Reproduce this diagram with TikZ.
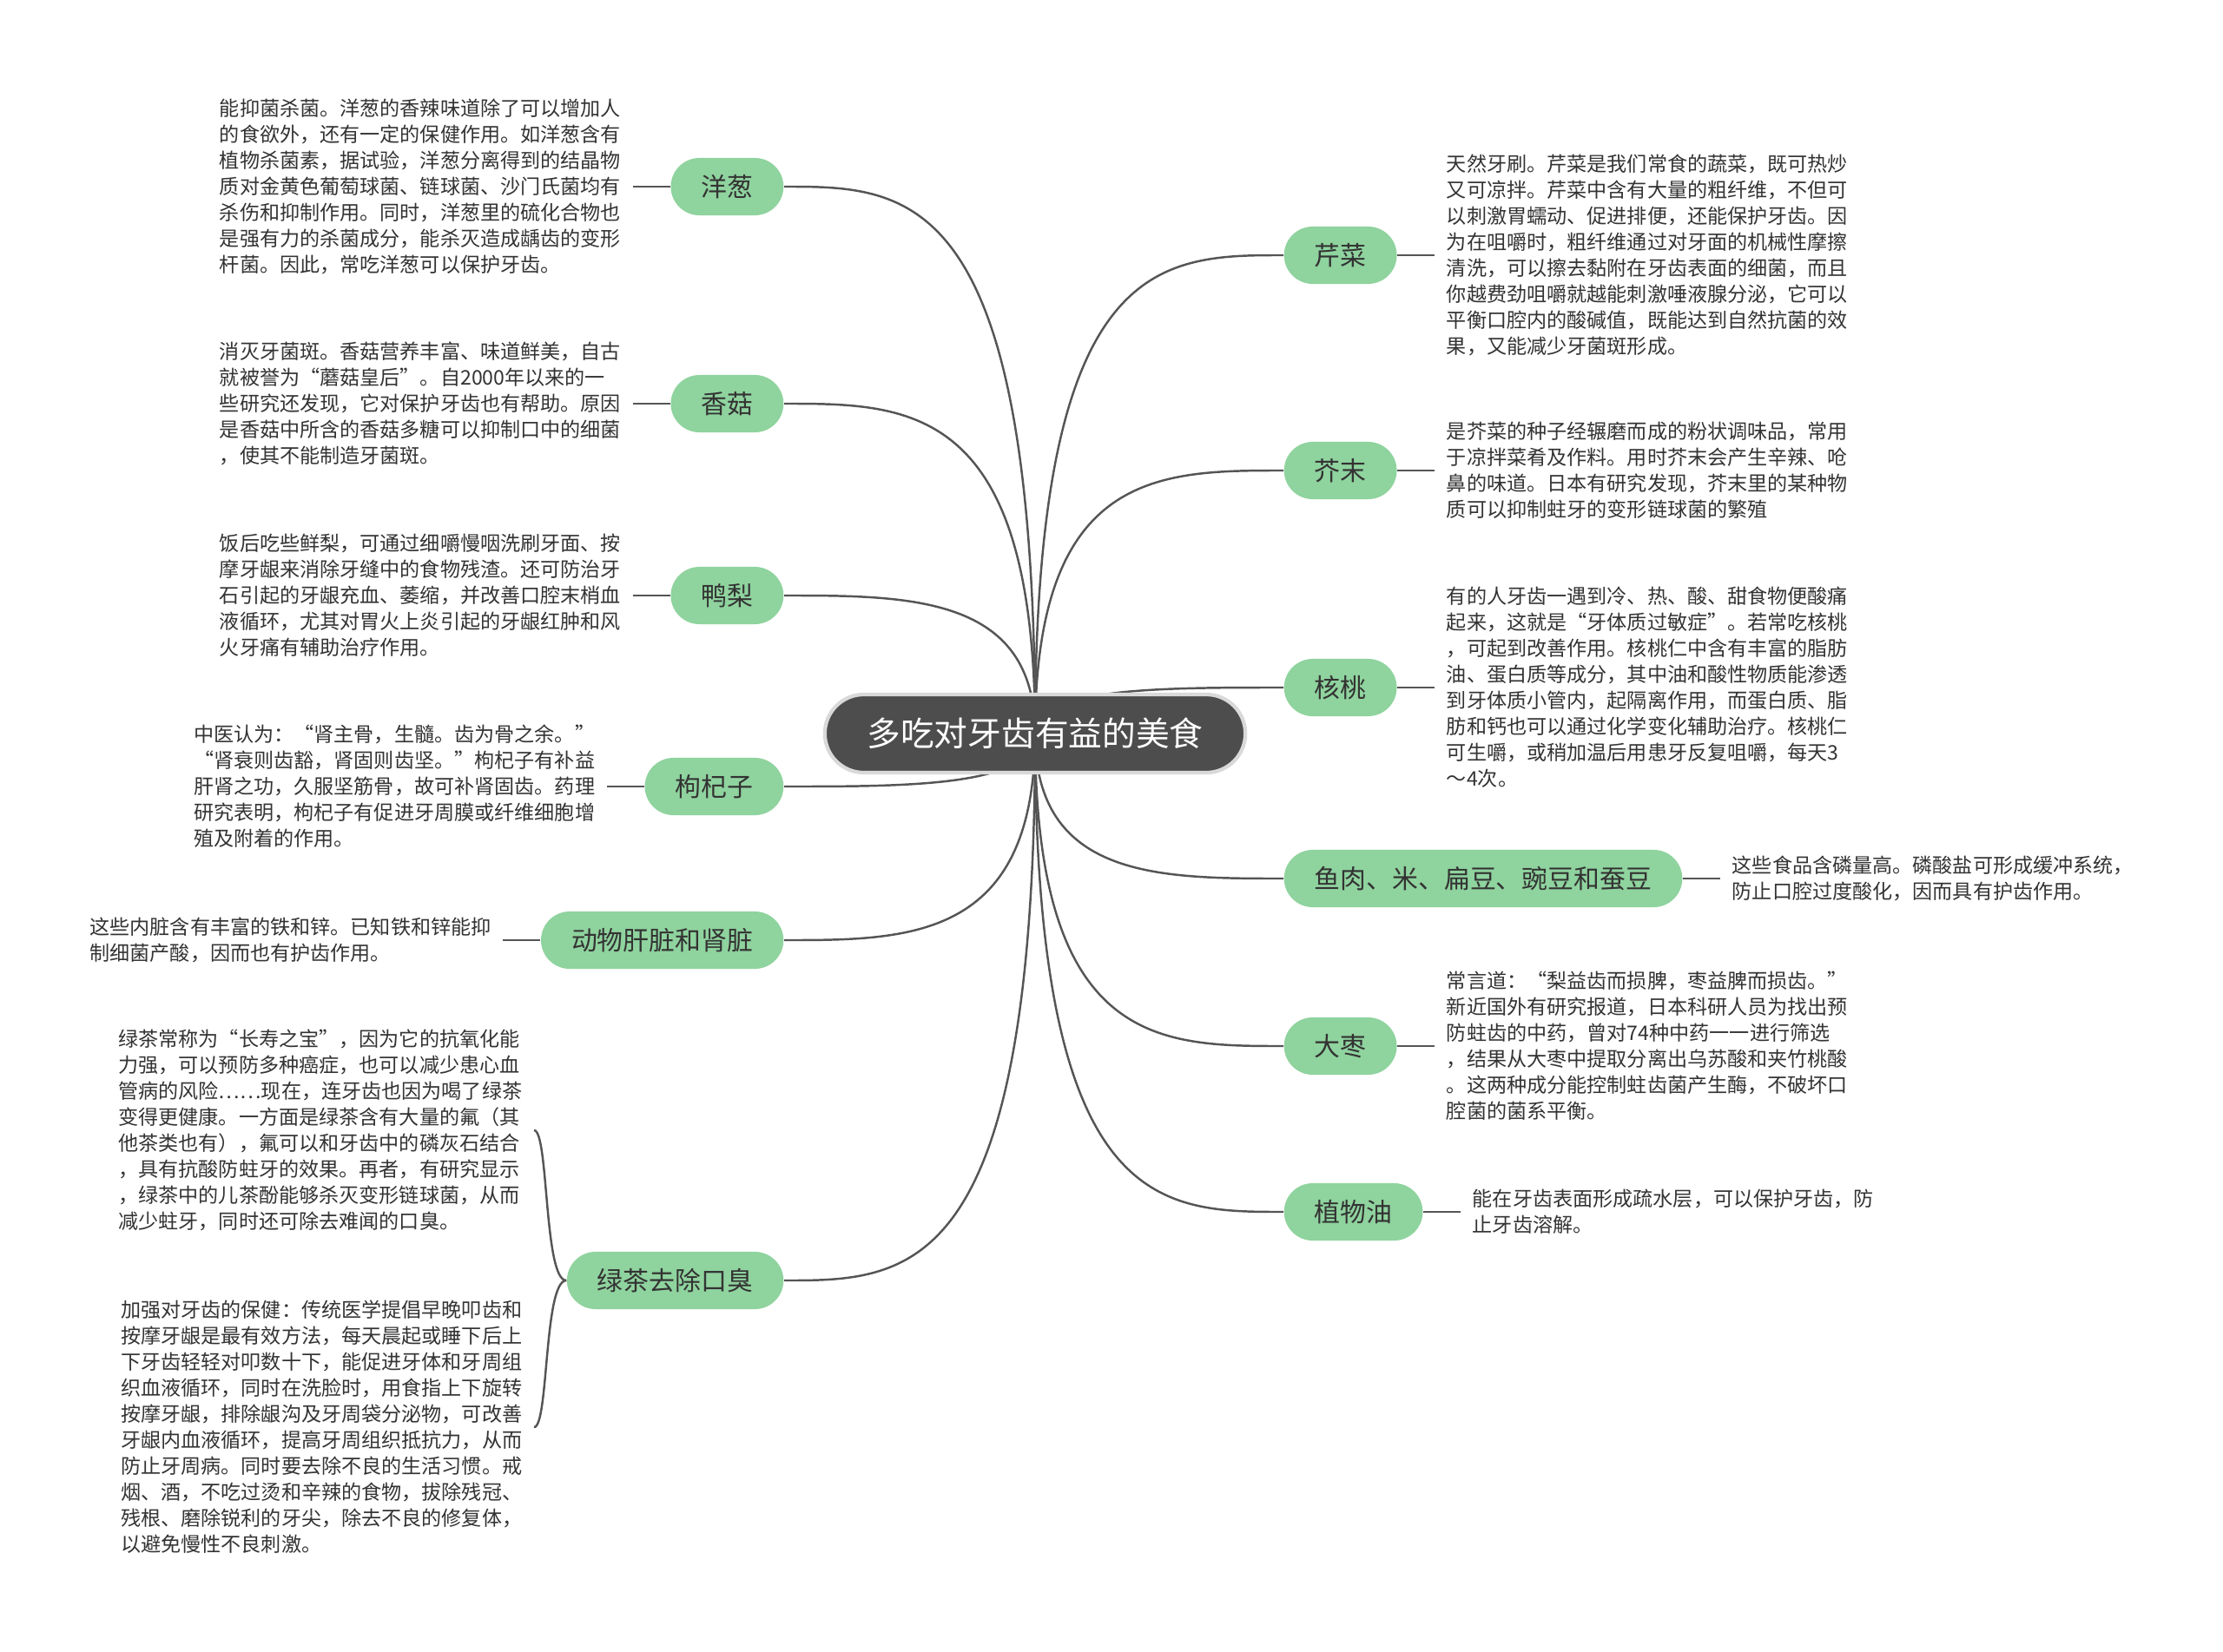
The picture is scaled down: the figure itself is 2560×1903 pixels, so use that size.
\documentclass[tikz,border=0pt]{standalone}
\usepackage{fontspec}
\setmainfont{Noto Sans CJK SC}
\usetikzlibrary{positioning, calc, backgrounds}
\definecolor{rootgray}{RGB}{77,77,77}
\definecolor{topicgreen}{RGB}{143,211,158}
\definecolor{linkgray}{RGB}{85,85,85}
\definecolor{textgray}{RGB}{51,51,51}

\begin{document}
\begin{tikzpicture}[
    x=0.01cm, y=-0.01cm,
    root/.style={fill=rootgray, draw=gray!30, line width=1.2pt, rounded corners=0.45cm, minimum width=4.84cm, minimum height=0.9cm, text=white, font=\fontsize{11pt}{13pt}\selectfont},
    topic/.style={fill=topicgreen, rounded corners=0.33cm, minimum height=0.66cm, inner xsep=0.35cm, text=textgray, font=\fontsize{8.5pt}{10pt}\selectfont},
    leaf/.style={align=left, inner xsep=0.13cm, inner ysep=0pt, text=textgray, font=\fontsize{6.57pt}{8.54pt}\selectfont},
    branch/.style={linkgray, line width=0.7pt, to path={.. controls (\tikztostart |- \tikztotarget) and ($(\tikztostart |- \tikztotarget)!0.5!(\tikztotarget)$) .. (\tikztotarget)}},
    twig/.style={linkgray, line width=0.7pt}
  ]
    \useasboundingbox (0,0) rectangle (2560,1903);
    \node[root] (root) at (1192,845) {多吃对牙齿有益的美食};
    % left side
    \node[topic, anchor=east] (yc) at (903,215) {洋葱};
    \node[topic, anchor=east] (xg) at (903,465) {香菇};
    \node[topic, anchor=east] (yl) at (903,686) {鸭梨};
    \node[topic, anchor=east] (gqz) at (903,906) {枸杞子};
    \node[topic, anchor=east] (dwgz) at (903,1083) {动物肝脏和肾脏};
    \node[topic, anchor=east] (lc) at (903,1475) {绿茶去除口臭};
    % right side
    \node[topic, anchor=west] (qc) at (1478,294) {芹菜};
    \node[topic, anchor=west] (jm) at (1478,542) {芥末};
    \node[topic, anchor=west] (ht) at (1478,792) {核桃};
    \node[topic, anchor=west] (yr) at (1478,1012) {鱼肉、米、扁豆、豌豆和蚕豆};
    \node[topic, anchor=west] (dz) at (1478,1205) {大枣};
    \node[topic, anchor=west] (zwy) at (1478,1396) {植物油};

    \node[leaf, left=0.43cm of yc] (yc-t) {能抑菌杀菌。洋葱的香辣味道除了可以增加人\\的食欲外，还有一定的保健作用。如洋葱含有\\植物杀菌素，据试验，洋葱分离得到的结晶物\\质对金黄色葡萄球菌、链球菌、沙门氏菌均有\\杀伤和抑制作用。同时，洋葱里的硫化合物也\\是强有力的杀菌成分，能杀灭造成龋齿的变形\\杆菌。因此，常吃洋葱可以保护牙齿。};
    \node[leaf, left=0.43cm of xg] (xg-t) {消灭牙菌斑。香菇营养丰富、味道鲜美，自古\\就被誉为“蘑菇皇后”。自2000年以来的一\\些研究还发现，它对保护牙齿也有帮助。原因\\是香菇中所含的香菇多糖可以抑制口中的细菌\\，使其不能制造牙菌斑。};
    \node[leaf, left=0.43cm of yl] (yl-t) {饭后吃些鲜梨，可通过细嚼慢咽洗刷牙面、按\\摩牙龈来消除牙缝中的食物残渣。还可防治牙\\石引起的牙龈充血、萎缩，并改善口腔末梢血\\液循环，尤其对胃火上炎引起的牙龈红肿和风\\火牙痛有辅助治疗作用。};
    \node[leaf, left=0.43cm of gqz] (gqz-t) {中医认为：“肾主骨，生髓。齿为骨之余。”\\“肾衰则齿豁，肾固则齿坚。”枸杞子有补益\\肝肾之功，久服坚筋骨，故可补肾固齿。药理\\研究表明，枸杞子有促进牙周膜或纤维细胞增\\殖及附着的作用。};
    \node[leaf, left=0.43cm of dwgz] (dwgz-t) {这些内脏含有丰富的铁和锌。已知铁和锌能抑\\制细菌产酸，因而也有护齿作用。};
    \node[leaf, anchor=east] (lc-t1) at (615,1302) {绿茶常称为“长寿之宝”，因为它的抗氧化能\\力强，可以预防多种癌症，也可以减少患心血\\管病的风险……现在，连牙齿也因为喝了绿茶\\变得更健康。一方面是绿茶含有大量的氟（其\\他茶类也有），氟可以和牙齿中的磷灰石结合\\，具有抗酸防蛀牙的效果。再者，有研究显示\\，绿茶中的儿茶酚能够杀灭变形链球菌，从而\\减少蛀牙，同时还可除去难闻的口臭。};
    \node[leaf, anchor=east] (lc-t2) at (615,1644) {加强对牙齿的保健：传统医学提倡早晚叩齿和\\按摩牙龈是最有效方法，每天晨起或睡下后上\\下牙齿轻轻对叩数十下，能促进牙体和牙周组\\织血液循环，同时在洗脸时，用食指上下旋转\\按摩牙龈，排除龈沟及牙周袋分泌物，可改善\\牙龈内血液循环，提高牙周组织抵抗力，从而\\防止牙周病。同时要去除不良的生活习惯。戒\\烟、酒，不吃过烫和辛辣的食物，拔除残冠、\\残根、磨除锐利的牙尖，除去不良的修复体，\\以避免慢性不良刺激。};
    \node[leaf, right=0.43cm of qc] (qc-t) {天然牙刷。芹菜是我们常食的蔬菜，既可热炒\\又可凉拌。芹菜中含有大量的粗纤维，不但可\\以刺激胃蠕动、促进排便，还能保护牙齿。因\\为在咀嚼时，粗纤维通过对牙面的机械性摩擦\\清洗，可以擦去黏附在牙齿表面的细菌，而且\\你越费劲咀嚼就越能刺激唾液腺分泌，它可以\\平衡口腔内的酸碱值，既能达到自然抗菌的效\\果，又能减少牙菌斑形成。};
    \node[leaf, right=0.43cm of jm] (jm-t) {是芥菜的种子经辗磨而成的粉状调味品，常用\\于凉拌菜肴及作料。用时芥末会产生辛辣、呛\\鼻的味道。日本有研究发现，芥末里的某种物\\质可以抑制蛀牙的变形链球菌的繁殖};
    \node[leaf, right=0.43cm of ht] (ht-t) {有的人牙齿一遇到冷、热、酸、甜食物便酸痛\\起来，这就是“牙体质过敏症”。若常吃核桃\\，可起到改善作用。核桃仁中含有丰富的脂肪\\油、蛋白质等成分，其中油和酸性物质能渗透\\到牙体质小管内，起隔离作用，而蛋白质、脂\\肪和钙也可以通过化学变化辅助治疗。核桃仁\\可生嚼，或稍加温后用患牙反复咀嚼，每天3\\～4次。};
    \node[leaf, right=0.43cm of yr] (yr-t) {这些食品含磷量高。磷酸盐可形成缓冲系统，\\防止口腔过度酸化，因而具有护齿作用。};
    \node[leaf, right=0.43cm of dz] (dz-t) {常言道：“梨益齿而损脾，枣益脾而损齿。”\\新近国外有研究报道，日本科研人员为找出预\\防蛀齿的中药，曾对74种中药一一进行筛选\\，结果从大枣中提取分离出乌苏酸和夹竹桃酸\\。这两种成分能控制蛀齿菌产生酶，不破坏口\\腔菌的菌系平衡。};
    \node[leaf, right=0.43cm of zwy] (zwy-t) {能在牙齿表面形成疏水层，可以保护牙齿，防\\止牙齿溶解。};

    \begin{scope}[on background layer]
      \fill[white] (0,0) rectangle (2560,1903);
      \draw[branch] (root.center) to (yc.east);
      \draw[branch] (root.center) to (xg.east);
      \draw[branch] (root.center) to (yl.east);
      \draw[branch] (root.center) to (gqz.east);
      \draw[branch] (root.center) to (dwgz.east);
      \draw[branch] (root.center) to (lc.east);
      \draw[branch] (root.center) to (qc.west);
      \draw[branch] (root.center) to (jm.west);
      \draw[branch] (root.center) to (ht.west);
      \draw[branch] (root.center) to (yr.west);
      \draw[branch] (root.center) to (dz.west);
      \draw[branch] (root.center) to (zwy.west);
    \end{scope}
    \draw[twig] (yc) -- (yc-t);
    \draw[twig] (xg) -- (xg-t);
    \draw[twig] (yl) -- (yl-t);
    \draw[twig] (gqz) -- (gqz-t);
    \draw[twig] (dwgz) -- (dwgz-t);
    \draw[twig] (lc.west) .. controls +(-0.26cm,0) and +(0.17cm,0) .. (lc-t1.east);
    \draw[twig] (lc.west) .. controls +(-0.26cm,0) and +(0.17cm,0) .. (lc-t2.east);
    \draw[twig] (qc) -- (qc-t);
    \draw[twig] (jm) -- (jm-t);
    \draw[twig] (ht) -- (ht-t);
    \draw[twig] (yr) -- (yr-t);
    \draw[twig] (dz) -- (dz-t);
    \draw[twig] (zwy) -- (zwy-t);
  \end{tikzpicture}
\end{document}
